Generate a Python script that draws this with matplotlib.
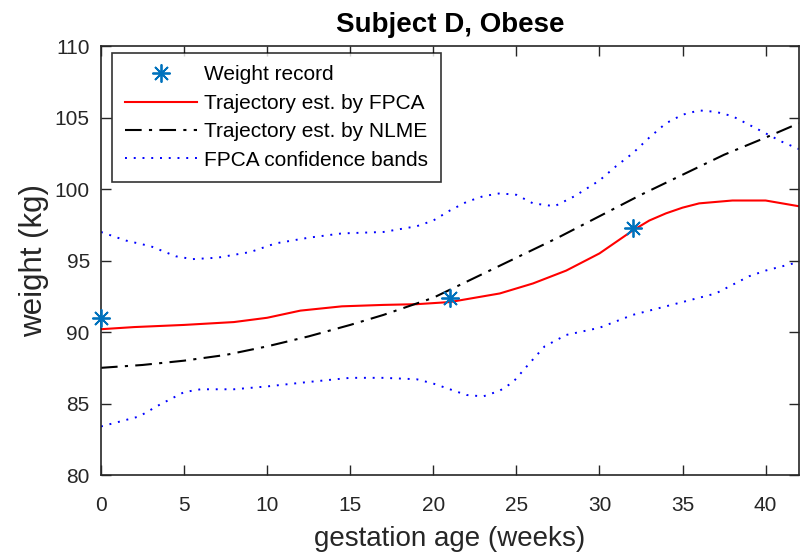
import matplotlib
matplotlib.use("Agg")
import matplotlib.pyplot as plt

plt.rcParams['font.family'] = ['Liberation Sans', 'DejaVu Sans']

# observed weights
rec_x = [0, 21, 32]
rec_y = [91.0, 92.4, 97.3]

# FPCA trajectory
fpca_x = [0, 2, 5, 8, 10, 12, 14.5, 17, 19, 21, 22, 24, 26, 28, 30, 31, 32, 33, 34, 35, 36, 38, 40, 41, 42]
fpca_y = [90.2, 90.35, 90.5, 90.7, 91.0, 91.5, 91.8, 91.9, 91.95, 92.1, 92.3, 92.7, 93.4, 94.3, 95.5,
          96.3, 97.1, 97.8, 98.3, 98.7, 99.0, 99.2, 99.2, 99.0, 98.8]

# NLME trajectory
nlme_x = [0, 2.5, 5, 7.5, 10, 12.5, 15, 17, 20, 22.5, 25, 27.5, 30, 32.5, 35, 37.5, 40, 42]
nlme_y = [87.5, 87.7, 88.0, 88.4, 89.0, 89.7, 90.5, 91.2, 92.4, 93.8, 95.2, 96.6, 98.1, 99.6,
          101.0, 102.4, 103.6, 104.6]

# confidence bands
up_x = [0, 1.5, 3, 4.5, 5.5, 7, 9, 10.5, 12.5, 14.5, 17, 19, 20, 21, 22, 23, 24, 25, 26, 27.3,
        28.5, 30, 31, 32, 33, 34, 35, 36, 37, 38, 39, 40, 41, 42]
up_y = [97.0, 96.4, 96.0, 95.3, 95.1, 95.2, 95.6, 96.2, 96.6, 96.9, 97.0, 97.4, 97.8, 98.5, 99.1,
        99.5, 99.7, 99.6, 99.0, 98.8, 99.5, 100.6, 101.6, 102.5, 103.6, 104.6, 105.2, 105.5, 105.4,
        105.1, 104.5, 103.9, 103.3, 102.8]
lo_x = [0, 1, 2.3, 3.5, 5, 6, 8, 10, 12.4, 15, 17, 19, 20, 21, 22, 23, 24, 24.8, 25.7, 26.7, 28,
        30, 32, 34, 35, 37, 39, 40, 42]
lo_y = [83.4, 83.7, 84.1, 84.9, 85.8, 86.0, 86.0, 86.2, 86.5, 86.8, 86.8, 86.7, 86.4, 86.0, 85.6,
        85.5, 85.9, 86.5, 87.7, 89.0, 89.8, 90.3, 91.2, 91.8, 92.1, 92.7, 93.9, 94.3, 94.9]

fig = plt.figure(figsize=(8.11, 5.55), dpi=100)
ax = fig.add_axes([0.1245, 0.144, 0.8605, 0.773])

ax.plot(rec_x, rec_y, linestyle='none', marker=(8, 2, 0), markersize=13,
        markeredgewidth=1.3, color='#0072BD', label='Weight record', zorder=5, clip_on=False)
ax.plot(fpca_x, fpca_y, '-', color='#FF0000', lw=1.5, label='Trajectory est. by FPCA')
ax.plot(nlme_x, nlme_y, color='black', lw=1.5, dashes=[8, 3.5, 1.5, 3.5],
        label='Trajectory est. by NLME')
ax.plot(up_x, up_y, color='#0000FF', lw=1.4, linestyle=(0, (1, 3.5)), label='FPCA confidence bands')
ax.plot(lo_x, lo_y, color='#0000FF', lw=1.4, linestyle=(0, (1, 3.5)))

ax.set_xlim(0, 42)
ax.set_ylim(80, 110)
ax.set_xticks(range(0, 41, 5))
ax.set_yticks(range(80, 111, 5))
ax.tick_params(direction='in', top=True, right=True, labelsize=15, colors='#262626',
               length=7, width=1)
ax.tick_params(axis='x', pad=15)
ax.tick_params(axis='y', pad=8)
for s in ax.spines.values():
    s.set_color('#262626')
    s.set_linewidth(1.2)

ax.set_xlabel('gestation age (weeks)', fontsize=20, color='#262626', labelpad=8)
ax.set_ylabel('weight (kg)', fontsize=22.5, color='#262626', labelpad=4)
ax.set_title('Subject D, Obese', fontsize=20, fontweight='bold', pad=10)

leg = ax.legend(loc='upper left', fontsize=15, handlelength=3.45, frameon=True, fancybox=False,
                edgecolor='black', borderpad=0.6, labelspacing=0.45, handletextpad=0.38,
                borderaxespad=0, bbox_to_anchor=(0.016, 0.984))
leg.get_frame().set_linewidth(1.2)

fig.savefig('out.png', dpi=100)
